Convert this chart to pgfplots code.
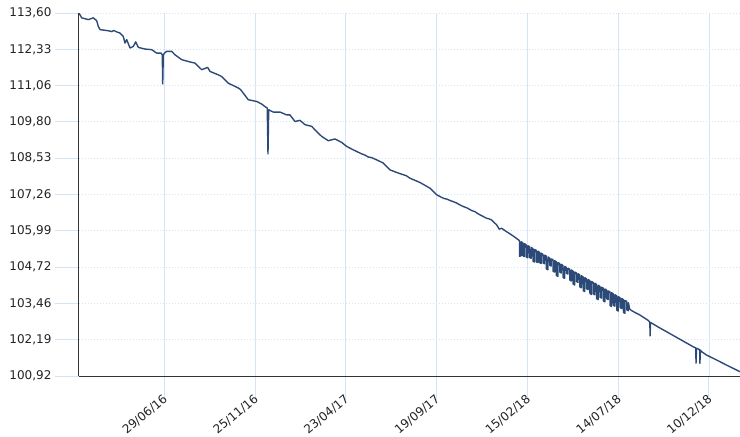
\documentclass[border=0pt]{standalone}
\usepackage{fontspec}
\setmainfont{DejaVu Sans}
\usepackage{pgfplots}
\pgfplotsset{compat=1.18}
\definecolor{gridblue}{RGB}{212,227,246}
\definecolor{lineblue}{RGB}{44,74,120}
\definecolor{labelgray}{RGB}{35,35,35}
\begin{document}
\begin{tikzpicture}
\path[use as bounding box] (-79pt,-61pt) rectangle (661pt,376pt);
\begin{axis}[
  scale only axis, width=661pt, height=363pt,
  at={(0pt,0pt)}, anchor=south west,
  xmin=-140, xmax=945, ymin=100.92, ymax=113.60,
  axis x line*=bottom, axis y line*=left,
  axis line style={draw=black!80, line width=1pt},
  xtick={0,149,298,447,596,745,894},
  xticklabels={29/06/16,25/11/16,23/04/17,19/09/17,15/02/18,14/07/18,10/12/18},
  ytick={100.92,102.19,103.46,104.72,105.99,107.26,108.53,109.80,111.06,112.33,113.60},
  yticklabels={{100,92},{102,19},{103,46},{104,72},{105,99},{107,26},{108,53},{109,80},{111,06},{112,33},{113,60}},
  grid=major,
  x grid style={gridblue, line width=0.8pt},
  y grid style={gridblue, line width=0.8pt, dash pattern=on 1.2pt off 1.8pt},
  tick align=outside,
  major tick length=24pt,
  xtick style={draw=gridblue, line width=0.9pt},
  ytick style={draw=gridblue, line width=0.9pt},
  ticklabel style={font=\fontsize{12}{14}\selectfont, text=labelgray},
  xticklabel style={yshift=5pt, xshift=4pt, rotate=40, anchor=east},
  yticklabel style={anchor=east},
]
\addplot[lineblue, line width=1.4pt, line join=round, no marks] coordinates {
(-140,113.60)(-135.6,113.43)(-124.7,113.37)(-116.5,113.43)(-110.9,113.33)(-108.3,113.13)
(-105.5,113.02)(-91.9,112.98)(-86,112.95)(-83,112.99)(-78.1,112.94)(-72.7,112.90)(-67.3,112.78)(-64.5,112.55)
(-61.7,112.67)(-56.3,112.38)(-50.9,112.43)(-46.9,112.59)(-42.7,112.40)(-31.7,112.34)
(-20.7,112.32)(-12.5,112.20)(-5.4,112.20)(-3.3,112.14)(-2.6,111.12)(-1.6,112.14)
(0.3,112.20)(3.9,112.26)(12.1,112.26)(17.6,112.14)(28.6,111.97)(42.2,111.89)
(50.4,111.85)(61.4,111.62)(71.2,111.70)(75.0,111.56)(88.6,111.44)(94.2,111.38)
(105.0,111.15)(121.4,110.98)(125,110.93)(129.7,110.80)(137.9,110.57)(151.6,110.51)(159.9,110.42)
(165.3,110.33)(169.0,110.28)(170.2,108.68)(171.4,110.22)(178.9,110.14)(189.9,110.14)
(200.9,110.04)(206.3,110.04)(214.5,109.81)(222.7,109.85)(230.9,109.70)(241.9,109.64)
(250.1,109.46)(258.3,109.29)(269.2,109.14)(280.2,109.20)(291.1,109.08)(299.4,108.94)
(310.2,108.82)(324.0,108.68)(329,108.64)(334.8,108.57)(340,108.55)(348.6,108.47)(359.4,108.36)(370.4,108.12)
(381.4,108.03)(392.2,107.95)(397,107.92)(403.2,107.83)(419.7,107.68)(436.1,107.48)(447.1,107.25)
(457.9,107.13)(465,107.09)(469,107.05)(474.3,107.01)(480,106.96)(485,106.90)(490.7,106.84)(497,106.79)
(504.5,106.70)(510,106.66)(514,106.60)(518.1,106.55)(529.1,106.43)(533,106.41)
(537.3,106.37)(545.5,106.20)(549.8,106.05)(553.7,106.08)(561.9,105.96)(572.8,105.81)
(581.0,105.68)
(583,105.64)(583.2,105.10)(585.6,105.12)(585.8,105.61)
(588.5,105.57)(588.7,105.12)(591.1,105.09)(591.3,105.54)
(594,105.50)(594.2,105.08)(596.6,105.05)(596.8,105.47)
(599.5,105.44)(599.7,105.06)(602.1,105.03)(602.3,105.41)
(605,105.37)(605.2,104.93)(607.6,104.90)(607.8,105.34)
(610.5,105.31)(610.7,104.91)(613.1,104.88)(613.3,105.28)
(616,105.24)(616.2,104.88)(618.6,104.85)(618.8,105.21)
(621.5,105.17)(621.7,104.87)(624.1,104.84)(624.3,105.14)
(627,105.11)(627.2,104.66)(629.6,104.63)(629.8,105.08)
(632.5,105.04)(632.7,104.79)(635.1,104.76)(635.3,105.01)
(638,104.98)(638.2,104.58)(640.6,104.55)(640.8,104.95)
(643.5,104.91)(643.7,104.43)(646.1,104.40)(646.3,104.88)
(649,104.85)(649.2,104.55)(651.6,104.52)(651.8,104.82)
(654.5,104.78)(654.7,104.36)(657.1,104.33)(657.3,104.75)
(660,104.71)(660.2,104.51)(662.6,104.48)(662.8,104.68)
(665.5,104.65)(665.7,104.27)(668.1,104.24)(668.3,104.62)
(671,104.58)(671.2,104.13)(673.6,104.10)(673.8,104.55)
(676.5,104.52)(676.7,104.22)(679.1,104.19)(679.3,104.49)
(682,104.45)(682.2,104.03)(684.6,104.00)(684.8,104.42)
(687.5,104.38)(687.7,103.90)(690.1,103.87)(690.3,104.35)
(693,104.32)(693.2,103.97)(695.6,103.94)(695.8,104.29)
(698.5,104.25)(698.7,103.80)(701.1,103.77)(701.3,104.22)
(704,104.19)(704.2,103.79)(706.6,103.76)(706.8,104.16)
(709.5,104.12)(709.7,103.62)(712.1,103.59)(712.3,104.09)
(715,104.05)(715.2,103.67)(717.6,103.64)(717.8,104.02)
(720.5,103.99)(720.7,103.54)(723.1,103.51)(723.3,103.96)
(726,103.92)(726.2,103.62)(728.6,103.59)(728.8,103.89)
(731.5,103.86)(731.7,103.38)(734.1,103.35)(734.3,103.83)
(737,103.79)(737.2,103.39)(739.6,103.36)(739.8,103.76)
(742.5,103.72)(742.7,103.22)(745.1,103.19)(745.3,103.69)
(748,103.66)(748.2,103.31)(750.6,103.28)(750.8,103.63)
(753.5,103.59)(753.7,103.14)(756.1,103.11)(756.3,103.56)
(759,103.53)(759.2,103.23)(761.6,103.20)(761.8,103.48)
(764,103.25)(769.8,103.17)(780.8,103.05)(794.4,102.86)
(797.0,102.80)(797.4,102.32)(798.2,102.79)
(810,102.64)(830,102.40)(850,102.16)(868.2,101.94)
(872.4,101.90)(872.8,101.37)(873.6,101.89)
(878.8,101.84)(879.2,101.36)(880.0,101.82)
(882,101.77)(890.2,101.65)(906.6,101.48)(923,101.30)(945,101.07)
};
\end{axis}
\end{tikzpicture}
\end{document}
